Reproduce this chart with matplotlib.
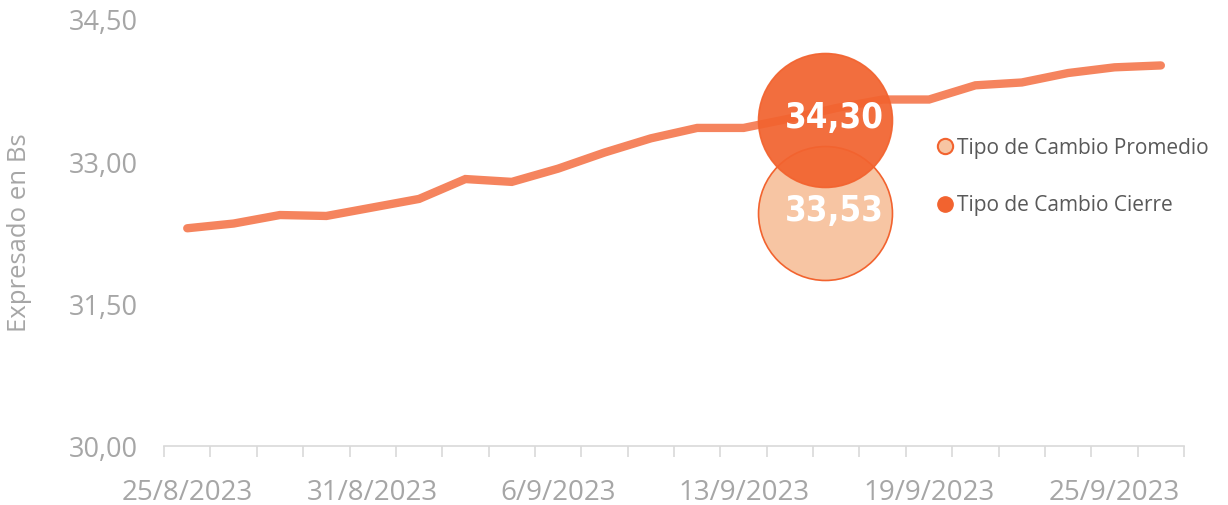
import matplotlib.pyplot as plt
from matplotlib.lines import Line2D
from matplotlib.ticker import FixedLocator, FuncFormatter

# daily exchange rate series (business days)
dates = ['25/8/2023', '28/8/2023', '29/8/2023', '30/8/2023', '31/8/2023', '1/9/2023',
         '4/9/2023', '5/9/2023', '6/9/2023', '7/9/2023', '8/9/2023', '11/9/2023',
         '13/9/2023', '14/9/2023', '15/9/2023', '18/9/2023', '19/9/2023', '20/9/2023',
         '21/9/2023', '22/9/2023', '25/9/2023', '26/9/2023']
rate = [32.30, 32.35, 32.44, 32.43, 32.52, 32.61, 32.82, 32.79, 32.93, 33.10, 33.25,
        33.36, 33.36, 33.46, 33.57, 33.66, 33.66, 33.81, 33.84, 33.94, 34.00, 34.02]

bubble_labels = ['Tipo de Cambio Promedio', 'Tipo de Cambio Cierre']
bubble_values = [33.53, 34.30]

LINE = '#F5845E'
DARK = '#F2632F'
LIGHT = '#F7C5A3'
GREY = '#A6A6A6'

plt.rcParams['font.family'] = ['Open Sans', 'DejaVu Sans']

fig = plt.figure(figsize=(12.28, 5.05), dpi=100)
ax = fig.add_axes([0.1336, 0.1168, 0.8306, 0.8436])

x = list(range(len(dates)))
ax.plot(x, rate, color=LINE, lw=6, solid_capstyle='round', solid_joinstyle='miter', zorder=2)

# bubbles (positions are layout only)
bx = 13.76
by = {33.53: 32.46, 34.30: 33.44}
ax.scatter([bx], [by[bubble_values[0]]], s=9300, color=LIGHT, edgecolor=DARK, lw=1.2, zorder=3)
ax.scatter([bx], [by[bubble_values[1]]], s=9300, color=DARK, edgecolor=DARK, lw=1.2, alpha=0.93, zorder=4)
for v in bubble_values:
    ax.text(bx + 0.2, by[v] + 0.02, f'{v:.2f}'.replace('.', ','), ha='center', va='center',
            color='white', fontsize=25, fontweight='bold', fontstretch='condensed',
            family=['DejaVu Sans'], zorder=5)

ax.set_xlim(-0.5, len(dates) - 0.5)
ax.set_ylim(30, 34.5)
ax.set_yticks([30, 31.5, 33, 34.5])
ax.yaxis.set_major_formatter(FuncFormatter(lambda v, p: f'{v:.2f}'.replace('.', ',')))
ax.set_xticks(x[::4])
ax.set_xticklabels(dates[::4])
ax.xaxis.set_minor_locator(FixedLocator([i - 0.5 for i in range(len(dates) + 1)]))
ax.tick_params(axis='x', which='major', length=0, pad=24, labelsize=20, labelcolor=GREY)
ax.tick_params(axis='x', which='minor', length=8, width=1.2, color='#D9D9D9')
ax.tick_params(axis='y', length=0, pad=19, labelsize=19.5, labelcolor=GREY)
for s in ['top', 'right', 'left']:
    ax.spines[s].set_visible(False)
ax.spines['bottom'].set_color('#D9D9D9')
ax.spines['bottom'].set_linewidth(1.2)

ax.set_ylabel('Expresado en Bs', fontsize=18.5, color=GREY)
ax.yaxis.set_label_coords(-0.129, 0.5)

handles = [Line2D([], [], ls='none', marker='o', ms=11, markerfacecolor=LIGHT, markeredgecolor=DARK, markeredgewidth=1.5),
           Line2D([], [], ls='none', marker='o', ms=11, markerfacecolor=DARK, markeredgecolor=DARK)]
leg = fig.legend(handles, bubble_labels, loc='upper left', bbox_to_anchor=(0.758, 0.744),
                 frameon=False, fontsize=15, labelspacing=1.75, handlelength=0.6,
                 handletextpad=0.25, borderaxespad=0)
for t in leg.get_texts():
    t.set_color('#595959')

fig.savefig('out.png', dpi=100)
